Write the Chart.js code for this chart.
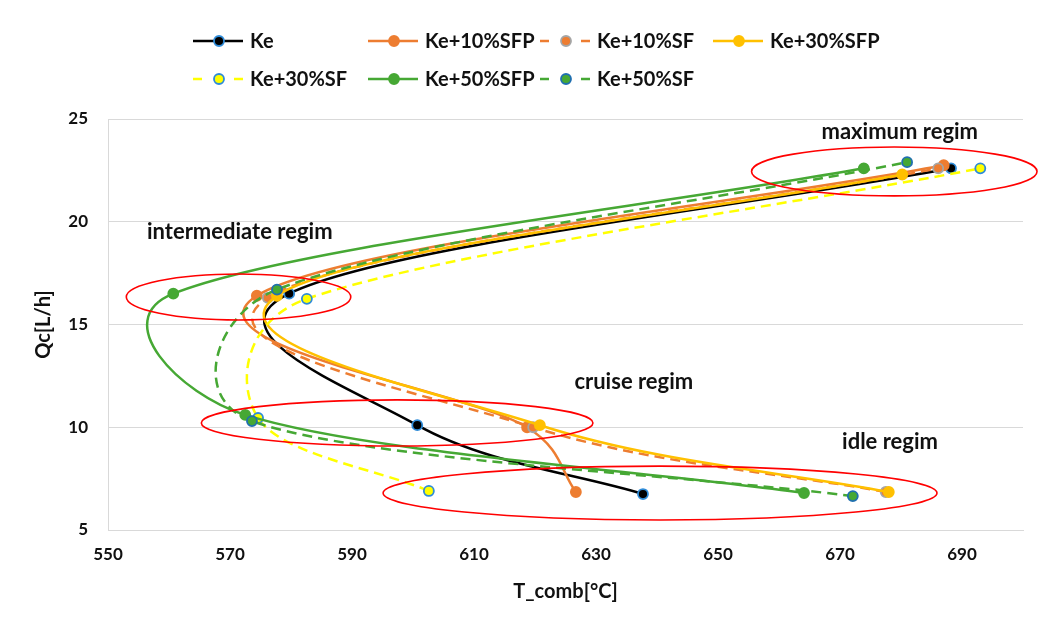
<!DOCTYPE html>
<html>
<head>
<meta charset="utf-8">
<script src="https://cdn.jsdelivr.net/npm/chart.js@4.4.1/dist/chart.umd.min.js"></script>
<style>
html,body{margin:0;padding:0;background:#fff;}
#wrap{width:1053px;height:626px;position:relative;}
</style>
</head>
<body>
<div id="wrap"><canvas id="c" width="1053" height="626"></canvas></div>
<script>
// ---- data (order of points: idle, cruise, intermediate, maximum) ----
const seriesNames = ['Ke','Ke+10%SFP','Ke+10%SF','Ke+30%SFP','Ke+30%SF','Ke+50%SFP','Ke+50%SF'];
const keT      = [637.7, 600.7, 579.7, 688.2];
const keQ      = [6.75, 10.1, 16.5, 22.6];
const sfp10T   = [626.7, 618.7, 574.4, 687.0];
const sfp10Q   = [6.85, 10.0, 16.4, 22.75];
const sf10T    = [677.5, 619.7, 576.2, 686.1];
const sf10Q    = [6.85, 10.0, 16.3, 22.6];
const sfp30T   = [678.0, 620.8, 577.7, 680.2];
const sfp30Q   = [6.85, 10.1, 16.4, 22.3];
const sf30T    = [602.6, 574.6, 582.6, 693.0];
const sf30Q    = [6.9, 10.45, 16.25, 22.6];
const sfp50T   = [664.1, 572.5, 560.7, 673.9];
const sfp50Q   = [6.8, 10.6, 16.5, 22.6];
const sf50T    = [672.1, 573.6, 577.7, 681.0];
const sf50Q    = [6.65, 10.3, 16.7, 22.9];

const xTicks = [550, 570, 590, 610, 630, 650, 670, 690];
const yTicks = [5, 10, 15, 20, 25];

// regime annotations (data units)
const regimeNames = ['maximum regim', 'intermediate regim', 'cruise regim', 'idle regim'];
const ellipseCx = [678.9, 571.4, 597.4, 640.5];
const ellipseCy = [22.45, 16.34, 10.21, 6.8];
const ellipseRx = [23.4, 18.4, 32.1, 45.4];
const ellipseRy = [1.19, 1.12, 1.12, 1.31];
const labelX    = [679.8, 571.6, 636.2, 678.2];
const labelY    = [24.37, 19.5, 12.2, 9.28];

const FONT = 'Lato, Carlito, Calibri, "Open Sans", sans-serif';

function pts(xs, ys){ return xs.map((x,i)=>({x:x, y:ys[i]})); }

const styles = [
  {line:'#000000', fill:'#000000', border:'#2E8BD8', dash:[]},
  {line:'#ED7D31', fill:'#ED7D31', border:'#ED7D31', dash:[]},
  {line:'#ED7D31', fill:'#ED7D31', border:'#A5A5A5', dash:[10,6]},
  {line:'#FFC000', fill:'#FFC000', border:'#FFC000', dash:[]},
  {line:'#FFFF00', fill:'#FFFF00', border:'#2E8BD8', dash:[10,6]},
  {line:'#46A834', fill:'#46A834', border:'#46A834', dash:[]},
  {line:'#46A834', fill:'#46A834', border:'#1F6FB0', dash:[10,6]}
];
const seriesT = [keT, sfp10T, sf10T, sfp30T, sf30T, sfp50T, sf50T];
const seriesQ = [keQ, sfp10Q, sf10Q, sfp30Q, sf30Q, sfp50Q, sf50Q];

const datasets = seriesNames.map((n,i)=>({
  label: n,
  data: pts(seriesT[i], seriesQ[i]),
  showLine: true,
  borderColor: styles[i].line,
  borderWidth: 2.5,
  borderDash: styles[i].dash,
  tension: 0.4,
  capBezierPoints: false,
  pointRadius: 5,
  pointBackgroundColor: styles[i].fill,
  pointBorderColor: styles[i].border,
  pointBorderWidth: 1.8,
  order: 7 - i
}));

// Excel-like smoothing: tangent along (next - prev), each side limited by half its segment
const SMOOTH_F = 0.19;   // interior points
const SMOOTH_E = 0.3;    // end points
function excelControlPoints(points){
  const n = points.length;
  const d = (a,b)=>Math.hypot(b.x-a.x, b.y-a.y);
  for (let i=0;i<n;i++){
    const p = points[i];
    const prev = points[i-1] || p, next = points[i+1] || p;
    const isEnd = (i === 0 || i === n-1);
    const F = isEnd ? SMOOTH_E : SMOOTH_F;
    const d01 = d(prev,p), d12 = d(p,next), d02 = d(prev,next);
    let f0 = F, f1 = F;
    if (d02 > 0 && !isEnd){
      f0 = Math.min(F, d01/(2*d02));
      f1 = Math.min(F, d12/(2*d02));
    }
    const dx = next.x-prev.x, dy = next.y-prev.y;
    p.cp1x = p.x - f0*dx; p.cp1y = p.y - f0*dy;
    p.cp2x = p.x + f1*dx; p.cp2y = p.y + f1*dy;
  }
}

const smoothPlugin = {
  id: 'excelSmooth',
  beforeDatasetDraw(chart, args){
    const line = args.meta.dataset;
    if (!line) return;
    if (typeof line.updateControlPoints === 'function'){
      line.updateControlPoints(chart.chartArea, args.meta.iScale ? args.meta.iScale.axis : 'x');
    }
    const points = line.points || line._points;
    if (points && points.length) excelControlPoints(points);
    line._path = undefined;
  }
};

const legendColX = [193, 368, 540, 713];
const legendRowY = [41, 79];

const overlayPlugin = {
  id: 'overlay',
  afterDatasetsDraw(chart){
    const ctx = chart.ctx, xs = chart.scales.x, ys = chart.scales.y;
    ctx.save();
    ctx.strokeStyle = '#FF0000';
    ctx.lineWidth = 1.6;
    for (let i=0;i<regimeNames.length;i++){
      const cx = xs.getPixelForValue(ellipseCx[i]);
      const cy = ys.getPixelForValue(ellipseCy[i]);
      const rx = Math.abs(xs.getPixelForValue(ellipseCx[i]+ellipseRx[i]) - cx);
      const ry = Math.abs(ys.getPixelForValue(ellipseCy[i]+ellipseRy[i]) - cy);
      ctx.beginPath();
      ctx.ellipse(cx, cy, rx, ry, 0, 0, Math.PI*2);
      ctx.stroke();
    }
    ctx.fillStyle = '#111';
    ctx.font = 'bold 22px ' + FONT;
    ctx.textAlign = 'center';
    ctx.textBaseline = 'middle';
    for (let i=0;i<regimeNames.length;i++){
      ctx.fillText(regimeNames[i], xs.getPixelForValue(labelX[i]), ys.getPixelForValue(labelY[i]));
    }
    ctx.restore();
  },
  afterDraw(chart){
    const ctx = chart.ctx;
    ctx.save();
    chart.data.datasets.forEach((ds,i)=>{
      const col = i < 4 ? i : i - 4;
      const row = i < 4 ? 0 : 1;
      const x0 = legendColX[col], y = legendRowY[row];
      const x1 = x0 + 50, xm = x0 + 26;
      ctx.strokeStyle = ds.borderColor;
      ctx.lineWidth = 2.5;
      ctx.setLineDash([]);
      ctx.beginPath();
      if (ds.borderDash && ds.borderDash.length){
        ctx.moveTo(x0, y); ctx.lineTo(x0+9, y);
        ctx.moveTo(x1-9, y); ctx.lineTo(x1, y);
      } else {
        ctx.moveTo(x0, y); ctx.lineTo(x1, y);
      }
      ctx.stroke();
      ctx.beginPath();
      ctx.arc(xm, y, 5, 0, Math.PI*2);
      ctx.fillStyle = ds.pointBackgroundColor;
      ctx.fill();
      ctx.lineWidth = 1.8;
      ctx.strokeStyle = ds.pointBorderColor;
      ctx.stroke();
      ctx.fillStyle = '#111';
      ctx.font = 'bold 20px ' + FONT;
      ctx.textAlign = 'left';
      ctx.textBaseline = 'middle';
      ctx.fillText(ds.label, x1 + 7, y + 1);
    });
    ctx.restore();
  }
};

new Chart(document.getElementById('c'), {
  type: 'scatter',
  data: { datasets: datasets },
  options: {
    responsive: false,
    animation: false,
    layout: { padding: { left: 0, right: 30, top: 119, bottom: 0 } },
    plugins: { legend: { display: false }, tooltip: { enabled: false } },
    scales: {
      x: {
        type: 'linear', min: 550, max: 700,
        afterBuildTicks(s){ s.ticks = xTicks.map(v=>({value:v})); },
        afterFit(s){ s.height = 96; },
        grid: { display: false, drawTicks: false },
        border: { display: true, color: '#D9D9D9', width: 1 },
        ticks: { color: '#111', padding: 14, font: { family: FONT, size: 17, weight: 'bold' }, maxRotation: 0 },
        title: { display: true, text: 'T_comb[°C]', color: '#111', font: { family: FONT, size: 20, weight: 'bold' }, padding: { top: 0, bottom: 22 } }
      },
      y: {
        type: 'linear', min: 5, max: 25,
        afterBuildTicks(s){ s.ticks = yTicks.map(v=>({value:v})); },
        afterFit(s){ s.width = 108; },
        grid: { display: true, color: '#D9D9D9', lineWidth: 1, drawTicks: false },
        border: { display: true, color: '#D9D9D9', width: 1 },
        ticks: { color: '#111', padding: 20, font: { family: FONT, size: 17, weight: 'bold' } },
        title: { display: true, text: 'Qc[L/h]', color: '#111', font: { family: FONT, size: 20, weight: 'bold' }, padding: { top: 32, bottom: 0 } }
      }
    }
  },
  plugins: [smoothPlugin, overlayPlugin]
});
</script>
</body>
</html>
